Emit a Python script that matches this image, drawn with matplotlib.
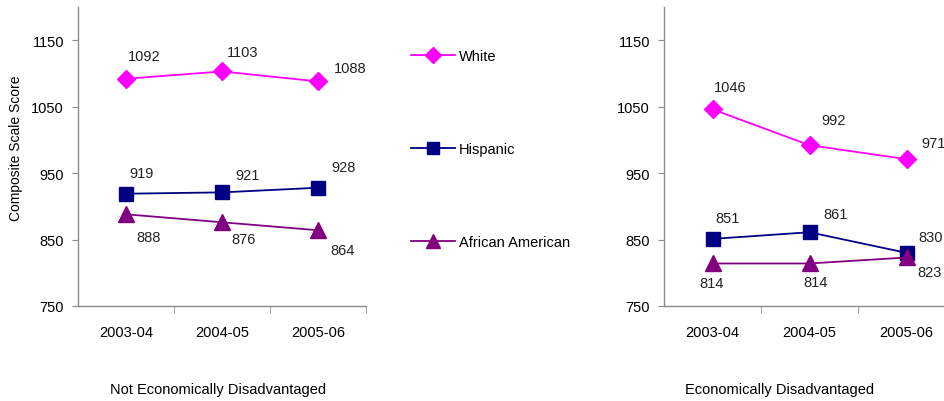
import matplotlib
matplotlib.use("Agg")
import matplotlib.pyplot as plt
from matplotlib import font_manager

# Composite scale scores by group, two panels
years = ["2003-04", "2004-05", "2005-06"]
groups = ["White", "Hispanic", "African American"]

not_disadv_white = [1092, 1103, 1088]
not_disadv_hispanic = [919, 921, 928]
not_disadv_african = [888, 876, 864]

disadv_white = [1046, 992, 971]
disadv_hispanic = [851, 861, 830]
disadv_african = [814, 814, 823]

panel_titles = ["Not Economically Disadvantaged", "Economically Disadvantaged"]

# pick a narrow sans if present
names = {f.name for f in font_manager.fontManager.ttflist}
fam = "Liberation Sans Narrow" if "Liberation Sans Narrow" in names else "Liberation Sans"
plt.rcParams["font.family"] = [fam, "DejaVu Sans"]
plt.rcParams["font.size"] = 10.5

colors = ["#FF00FF", "#000080", "#800080"]
markers = ["D", "s", "^"]
msizes = [9, 10, 11]
gray = "#8c8c8c"

# value label offsets in pixels (dx right, dy down), per panel / series / point
label_offsets = [
    [[(18, -23), (21, -19), (32, -13)],
     [(16, -21), (26, -17), (26, -21)],
     [(23, 23), (22, 17), (25, 20)]],
    [[(18, -22), (24, -25), (27, -16)],
     [(15, -21), (26, -18), (24, -16)],
     [(-1, 20), (6, 19), (23, 15)]],
]

fig = plt.figure(figsize=(9.44, 4.02), dpi=100)
ax1 = fig.add_axes([78 / 944, 95 / 402, 288 / 944, 299 / 402])
ax2 = fig.add_axes([664 / 944, 95 / 402, 291 / 944, 299 / 402])

panels = [
    (ax1, [not_disadv_white, not_disadv_hispanic, not_disadv_african]),
    (ax2, [disadv_white, disadv_hispanic, disadv_african]),
]

x = list(range(len(years)))
for (ax, series), offs in zip(panels, label_offsets):
    for vals, name, c, m, ms, off in zip(series, groups, colors, markers, msizes, offs):
        ax.plot(x, vals, color=c, marker=m, markersize=ms, linewidth=1.3,
                markeredgecolor=c, label=name, clip_on=False)
        for xi, v, (dx, dy) in zip(x, vals, off):
            ax.annotate(str(v), (xi, v), xytext=(dx * 0.72, -dy * 0.72),
                        textcoords="offset points", ha="center", va="center",
                        fontsize=10.5, color="#222222", annotation_clip=False)
    ax.set_xlim(-0.5, 2.5)
    ax.set_ylim(750, 1200)
    ax.set_yticks([750, 850, 950, 1050, 1150])
    ax.set_xticks(x)
    ax.set_xticklabels(years)
    ax.set_xticks([0.5, 1.5, 2.5], minor=True)
    ax.tick_params(axis="x", which="major", length=0, pad=14, labelsize=10.5)
    ax.tick_params(axis="x", which="minor", length=5, color=gray, direction="out")
    ax.tick_params(axis="y", length=4, color=gray, direction="out", pad=6, labelsize=10.5)
    for s in ["top", "right"]:
        ax.spines[s].set_visible(False)
    for s in ["left", "bottom"]:
        ax.spines[s].set_color(gray)
        ax.spines[s].set_linewidth(1.0)

ax1.set_ylabel("Composite Scale Score", fontsize=10)
ax1.yaxis.set_label_coords(-0.19, 0.532)

fig.text(218 / 944, 1 - 390 / 402, panel_titles[0], ha="center", va="center", fontsize=10.5)
fig.text(780 / 944, 1 - 390 / 402, panel_titles[1], ha="center", va="center", fontsize=10.5)

handles, labels = ax1.get_legend_handles_labels()
fig.legend(handles, labels, loc="upper left", bbox_to_anchor=(398 / 944, 1 - 37 / 402),
           frameon=False, handlelength=3.0, handletextpad=0.25, labelspacing=5.4,
           fontsize=10.5, markerscale=0.9)

fig.savefig("out.png", dpi=100)
